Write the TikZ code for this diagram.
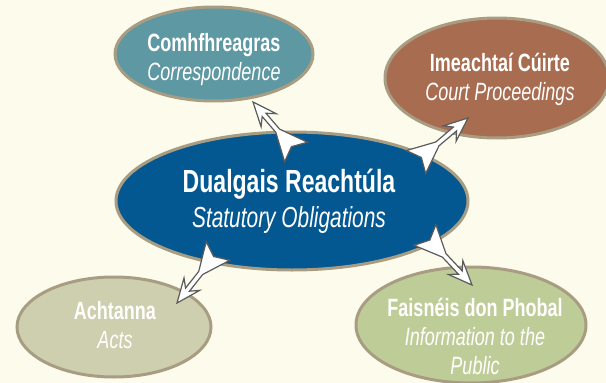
\documentclass[tikz,border=0pt]{standalone}
\usepackage{fontspec}
\setmainfont{Liberation Sans}[FakeStretch=0.72]
\usetikzlibrary{shapes.geometric,calc}
\definecolor{bgcream}{HTML}{FDFBEC}
\definecolor{rim}{HTML}{A89D82}
\definecolor{corrteal}{HTML}{5E98A2}
\definecolor{courtbrown}{HTML}{A86C50}
\definecolor{dualblue}{HTML}{045891}
\definecolor{actsgreen}{HTML}{CDCFAE}
\definecolor{infogreen}{HTML}{BECD97}
\definecolor{linkgray}{HTML}{5B5B5B}
\tikzset{
  bubble/.style={ellipse, draw=rim, line width=3pt, inner sep=0pt},
  caption/.style={text=white, align=center, inner sep=0pt, font=\fontsize{25}{29}\selectfont},
  link/.style={draw=linkgray, line width=1.2pt, fill=white}
}
% tail at #1, tip at #2
\newcommand{\swoosh}[2]{%
  \draw[link] (#2)
    -- ($($(#2)!24pt!(#1)$)!10pt!-90:(#1)$)
    -- ($($(#2)!17pt!(#1)$)!2.5pt!-90:(#1)$)
    -- ($($(#1)!28pt!(#2)$)!2.5pt!90:(#2)$)
    -- ($(#1)!15pt!90:(#2)$)
    -- ($(#1)!7pt!(#2)$)
    -- ($(#1)!15pt!-90:(#2)$)
    -- ($($(#1)!28pt!(#2)$)!2.5pt!-90:(#2)$)
    -- ($($(#2)!17pt!(#1)$)!2.5pt!90:(#1)$)
    -- ($($(#2)!24pt!(#1)$)!10pt!90:(#1)$)
    -- cycle;}
\begin{document}
\begin{tikzpicture}[x=1pt, y=-1pt]
\useasboundingbox (0,0) rectangle (606,383);
\fill[bgcream] (0,0) rectangle (606,383);

\node[bubble, fill=corrteal, minimum width=198pt, minimum height=94pt] (corr) at (214,54) {};
\node[bubble, fill=courtbrown, minimum width=224pt, minimum height=120pt] (court) at (497,78) {};
\node[bubble, fill=dualblue, minimum width=352pt, minimum height=138pt] (dual) at (292,201) {};
\node[bubble, fill=actsgreen, minimum width=194pt, minimum height=100pt] (acts) at (114,327) {};
\node[bubble, fill=infogreen, minimum width=230pt, minimum height=116pt] (info) at (471,325) {};

\node[caption] (corr-text) at ([yshift=-6pt]corr) {\bfseries Comhfhreagras\\\itshape Correspondence};
\node[caption] (court-text) at ([xshift=3pt, yshift=-1pt]court) {\bfseries Imeachtaí Cúirte\\\itshape Court Proceedings};
\node[caption, font=\fontsize{32}{35}\selectfont] (dual-text) at ([xshift=-3pt]dual)
  {\bfseries Dualgais Reachtúla\\\fontsize{29}{35}\selectfont\itshape Statutory Obligations};
\node[caption] (acts-text) at ([xshift=1pt, yshift=1.5pt]acts) {\bfseries Achtanna\\\itshape Acts};
\node[caption] (info-text) at ([xshift=4pt, yshift=-11.5pt]info)
  {\bfseries Faisnéis don Phobal\\\itshape Information to the\\\itshape Public};

\coordinate (dual-corr) at ($(dual)+(4,-49)$);
\coordinate (dual-court) at ($(dual)+(124,-39)$);
\coordinate (dual-acts) at ($(dual)+(-74,50)$);
\coordinate (dual-info) at ($(dual)+(133,34)$);
\coordinate (corr-end) at ($(corr)+(39,48)$);
\coordinate (court-end) at ($(court)+(-29,40)$);
\coordinate (acts-end) at ($(acts)+(63,-24)$);
\coordinate (info-end) at ($(info)+(1,-40)$);

\swoosh{dual-corr}{corr-end}
\swoosh{dual-court}{court-end}
\swoosh{dual-acts}{acts-end}
\swoosh{dual-info}{info-end}
\end{tikzpicture}
\end{document}
